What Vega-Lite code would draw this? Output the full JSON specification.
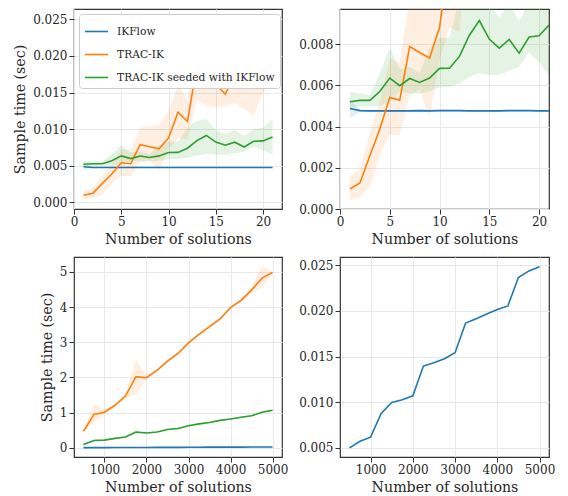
{
  "$schema": "https://vega.github.io/schema/vega-lite/v6.json",
  "padding": {"left": 13, "top": 8, "right": 5, "bottom": 5},
  "background": "white",
  "config": {
    "view": {"stroke": "#333333", "strokeWidth": 1.2},
    "font": "DejaVu Serif",
    "axis": {"labelFont": "DejaVu Serif", "labelFontSize": 12, "labelColor": "#262626", "titleFont": "DejaVu Serif", "titleFontSize": 14.2, "titleFontWeight": "normal", "titleColor": "#262626", "domain": false, "tickColor": "#333333", "tickSize": 5, "tickWidth": 1, "gridColor": "#e8e8e8", "gridWidth": 1, "labelPadding": 2, "titlePadding": 5, "labelFlush": false, "labelOverlap": false},
    "legend": {"labelFont": "DejaVu Serif", "labelFontSize": 10.7, "labelColor": "#262626", "labelLimit": 400}
  },
  "datasets": {
    "d": [
      {"s": "A", "m": "IKFlow", "n": 1, "y": 0.00487, "lo": 0.0044, "hi": 0.0053},
      {"s": "A", "m": "IKFlow", "n": 2, "y": 0.00477, "lo": 0.00472, "hi": 0.00482},
      {"s": "A", "m": "IKFlow", "n": 3, "y": 0.00476, "lo": 0.00472, "hi": 0.0048},
      {"s": "A", "m": "IKFlow", "n": 4, "y": 0.00476, "lo": 0.00472, "hi": 0.0048},
      {"s": "A", "m": "IKFlow", "n": 5, "y": 0.00476, "lo": 0.00472, "hi": 0.0048},
      {"s": "A", "m": "IKFlow", "n": 6, "y": 0.00476, "lo": 0.00472, "hi": 0.0048},
      {"s": "A", "m": "IKFlow", "n": 7, "y": 0.00476, "lo": 0.00472, "hi": 0.0048},
      {"s": "A", "m": "IKFlow", "n": 8, "y": 0.00477, "lo": 0.00473, "hi": 0.00481},
      {"s": "A", "m": "IKFlow", "n": 9, "y": 0.00476, "lo": 0.00472, "hi": 0.0048},
      {"s": "A", "m": "IKFlow", "n": 10, "y": 0.00477, "lo": 0.00473, "hi": 0.00481},
      {"s": "A", "m": "IKFlow", "n": 11, "y": 0.00477, "lo": 0.00473, "hi": 0.00481},
      {"s": "A", "m": "IKFlow", "n": 12, "y": 0.00477, "lo": 0.00473, "hi": 0.00481},
      {"s": "A", "m": "IKFlow", "n": 13, "y": 0.00476, "lo": 0.00472, "hi": 0.0048},
      {"s": "A", "m": "IKFlow", "n": 14, "y": 0.00476, "lo": 0.00472, "hi": 0.0048},
      {"s": "A", "m": "IKFlow", "n": 15, "y": 0.00476, "lo": 0.00472, "hi": 0.0048},
      {"s": "A", "m": "IKFlow", "n": 16, "y": 0.00476, "lo": 0.00472, "hi": 0.0048},
      {"s": "A", "m": "IKFlow", "n": 17, "y": 0.00477, "lo": 0.00473, "hi": 0.00481},
      {"s": "A", "m": "IKFlow", "n": 18, "y": 0.00477, "lo": 0.00473, "hi": 0.00481},
      {"s": "A", "m": "IKFlow", "n": 19, "y": 0.00477, "lo": 0.00473, "hi": 0.00481},
      {"s": "A", "m": "IKFlow", "n": 20, "y": 0.00476, "lo": 0.00472, "hi": 0.0048},
      {"s": "A", "m": "IKFlow", "n": 21, "y": 0.00476, "lo": 0.00472, "hi": 0.0048},
      {"s": "A", "m": "TRAC-IK", "n": 1, "y": 0.00097, "lo": 0.0004, "hi": 0.0016},
      {"s": "A", "m": "TRAC-IK", "n": 2, "y": 0.00126, "lo": 0.00057, "hi": 0.0019},
      {"s": "A", "m": "TRAC-IK", "n": 3, "y": 0.00258, "lo": 0.00105, "hi": 0.0037},
      {"s": "A", "m": "TRAC-IK", "n": 4, "y": 0.00388, "lo": 0.0026, "hi": 0.0052},
      {"s": "A", "m": "TRAC-IK", "n": 5, "y": 0.00541, "lo": 0.0036, "hi": 0.0073},
      {"s": "A", "m": "TRAC-IK", "n": 6, "y": 0.00528, "lo": 0.0036, "hi": 0.0071},
      {"s": "A", "m": "TRAC-IK", "n": 7, "y": 0.00788, "lo": 0.0055, "hi": 0.0102},
      {"s": "A", "m": "TRAC-IK", "n": 8, "y": 0.00759, "lo": 0.0058, "hi": 0.0104},
      {"s": "A", "m": "TRAC-IK", "n": 9, "y": 0.00732, "lo": 0.0044, "hi": 0.0106},
      {"s": "A", "m": "TRAC-IK", "n": 10, "y": 0.0088, "lo": 0.0072, "hi": 0.0125},
      {"s": "A", "m": "TRAC-IK", "n": 11, "y": 0.0123, "lo": 0.0088, "hi": 0.016},
      {"s": "A", "m": "TRAC-IK", "n": 12, "y": 0.01105, "lo": 0.0086, "hi": 0.014},
      {"s": "A", "m": "TRAC-IK", "n": 13, "y": 0.01864, "lo": 0.014, "hi": 0.0215},
      {"s": "A", "m": "TRAC-IK", "n": 14, "y": 0.01577, "lo": 0.0132, "hi": 0.02},
      {"s": "A", "m": "TRAC-IK", "n": 15, "y": 0.01614, "lo": 0.013, "hi": 0.02},
      {"s": "A", "m": "TRAC-IK", "n": 16, "y": 0.01477, "lo": 0.0131, "hi": 0.0185},
      {"s": "A", "m": "TRAC-IK", "n": 17, "y": 0.01741, "lo": 0.0136, "hi": 0.02},
      {"s": "A", "m": "TRAC-IK", "n": 18, "y": 0.01632, "lo": 0.0128, "hi": 0.019},
      {"s": "A", "m": "TRAC-IK", "n": 19, "y": 0.01645, "lo": 0.0118, "hi": 0.0205},
      {"s": "A", "m": "TRAC-IK", "n": 20, "y": 0.01864, "lo": 0.015, "hi": 0.0222},
      {"s": "A", "m": "TRAC-IK", "n": 21, "y": 0.02077, "lo": 0.0168, "hi": 0.0252},
      {"s": "A", "m": "TRAC-IK seeded with IKFlow", "n": 1, "y": 0.0052, "lo": 0.0049, "hi": 0.0057},
      {"s": "A", "m": "TRAC-IK seeded with IKFlow", "n": 2, "y": 0.00527, "lo": 0.005, "hi": 0.0056},
      {"s": "A", "m": "TRAC-IK seeded with IKFlow", "n": 3, "y": 0.00527, "lo": 0.005, "hi": 0.0055},
      {"s": "A", "m": "TRAC-IK seeded with IKFlow", "n": 4, "y": 0.0057, "lo": 0.005, "hi": 0.0066},
      {"s": "A", "m": "TRAC-IK seeded with IKFlow", "n": 5, "y": 0.00635, "lo": 0.0052, "hi": 0.0078},
      {"s": "A", "m": "TRAC-IK seeded with IKFlow", "n": 6, "y": 0.00598, "lo": 0.0057, "hi": 0.0068},
      {"s": "A", "m": "TRAC-IK seeded with IKFlow", "n": 7, "y": 0.00633, "lo": 0.0056, "hi": 0.0069},
      {"s": "A", "m": "TRAC-IK seeded with IKFlow", "n": 8, "y": 0.00614, "lo": 0.0056, "hi": 0.0066},
      {"s": "A", "m": "TRAC-IK seeded with IKFlow", "n": 9, "y": 0.00635, "lo": 0.0057, "hi": 0.0078},
      {"s": "A", "m": "TRAC-IK seeded with IKFlow", "n": 10, "y": 0.00682, "lo": 0.0059, "hi": 0.0083},
      {"s": "A", "m": "TRAC-IK seeded with IKFlow", "n": 11, "y": 0.00683, "lo": 0.0059, "hi": 0.0083},
      {"s": "A", "m": "TRAC-IK seeded with IKFlow", "n": 12, "y": 0.0074, "lo": 0.0061, "hi": 0.0102},
      {"s": "A", "m": "TRAC-IK seeded with IKFlow", "n": 13, "y": 0.00843, "lo": 0.0064, "hi": 0.0111},
      {"s": "A", "m": "TRAC-IK seeded with IKFlow", "n": 14, "y": 0.00914, "lo": 0.0066, "hi": 0.0114},
      {"s": "A", "m": "TRAC-IK seeded with IKFlow", "n": 15, "y": 0.00824, "lo": 0.0065, "hi": 0.0099},
      {"s": "A", "m": "TRAC-IK seeded with IKFlow", "n": 16, "y": 0.0078, "lo": 0.0065, "hi": 0.0093},
      {"s": "A", "m": "TRAC-IK seeded with IKFlow", "n": 17, "y": 0.00822, "lo": 0.0067, "hi": 0.0099},
      {"s": "A", "m": "TRAC-IK seeded with IKFlow", "n": 18, "y": 0.00756, "lo": 0.0069, "hi": 0.0091},
      {"s": "A", "m": "TRAC-IK seeded with IKFlow", "n": 19, "y": 0.00834, "lo": 0.0076, "hi": 0.01},
      {"s": "A", "m": "TRAC-IK seeded with IKFlow", "n": 20, "y": 0.0084, "lo": 0.0071, "hi": 0.0102},
      {"s": "A", "m": "TRAC-IK seeded with IKFlow", "n": 21, "y": 0.00892, "lo": 0.0065, "hi": 0.0114},
      {"s": "B", "m": "IKFlow", "n": 500, "y": 0.005, "lo": 0.005, "hi": 0.005},
      {"s": "B", "m": "IKFlow", "n": 750, "y": 0.00573, "lo": 0.00573, "hi": 0.00573},
      {"s": "B", "m": "IKFlow", "n": 1000, "y": 0.00617, "lo": 0.00617, "hi": 0.00617},
      {"s": "B", "m": "IKFlow", "n": 1250, "y": 0.00876, "lo": 0.00876, "hi": 0.00876},
      {"s": "B", "m": "IKFlow", "n": 1500, "y": 0.00997, "lo": 0.00997, "hi": 0.00997},
      {"s": "B", "m": "IKFlow", "n": 1750, "y": 0.01026, "lo": 0.01026, "hi": 0.01026},
      {"s": "B", "m": "IKFlow", "n": 2000, "y": 0.0107, "lo": 0.0107, "hi": 0.0107},
      {"s": "B", "m": "IKFlow", "n": 2250, "y": 0.01396, "lo": 0.01396, "hi": 0.01396},
      {"s": "B", "m": "IKFlow", "n": 2500, "y": 0.01432, "lo": 0.01432, "hi": 0.01432},
      {"s": "B", "m": "IKFlow", "n": 2750, "y": 0.01476, "lo": 0.01476, "hi": 0.01476},
      {"s": "B", "m": "IKFlow", "n": 3000, "y": 0.01542, "lo": 0.01542, "hi": 0.01542},
      {"s": "B", "m": "IKFlow", "n": 3250, "y": 0.01867, "lo": 0.01867, "hi": 0.01867},
      {"s": "B", "m": "IKFlow", "n": 3500, "y": 0.01915, "lo": 0.01915, "hi": 0.01915},
      {"s": "B", "m": "IKFlow", "n": 3750, "y": 0.01966, "lo": 0.01966, "hi": 0.01966},
      {"s": "B", "m": "IKFlow", "n": 4000, "y": 0.02014, "lo": 0.02014, "hi": 0.02014},
      {"s": "B", "m": "IKFlow", "n": 4250, "y": 0.02054, "lo": 0.02054, "hi": 0.02054},
      {"s": "B", "m": "IKFlow", "n": 4500, "y": 0.02365, "lo": 0.02365, "hi": 0.02365},
      {"s": "B", "m": "IKFlow", "n": 4750, "y": 0.02438, "lo": 0.02438, "hi": 0.02438},
      {"s": "B", "m": "IKFlow", "n": 5000, "y": 0.02482, "lo": 0.02482, "hi": 0.02482},
      {"s": "B", "m": "TRAC-IK", "n": 500, "y": 0.47, "lo": 0.44, "hi": 0.5},
      {"s": "B", "m": "TRAC-IK", "n": 750, "y": 0.95, "lo": 0.72, "hi": 1.25},
      {"s": "B", "m": "TRAC-IK", "n": 1000, "y": 1.01, "lo": 0.95, "hi": 1.06},
      {"s": "B", "m": "TRAC-IK", "n": 1250, "y": 1.21, "lo": 1.17, "hi": 1.25},
      {"s": "B", "m": "TRAC-IK", "n": 1500, "y": 1.47, "lo": 1.4, "hi": 1.55},
      {"s": "B", "m": "TRAC-IK", "n": 1750, "y": 2.02, "lo": 1.5, "hi": 2.52},
      {"s": "B", "m": "TRAC-IK", "n": 2000, "y": 1.99, "lo": 1.94, "hi": 2.05},
      {"s": "B", "m": "TRAC-IK", "n": 2250, "y": 2.2, "lo": 2.16, "hi": 2.24},
      {"s": "B", "m": "TRAC-IK", "n": 2500, "y": 2.46, "lo": 2.42, "hi": 2.5},
      {"s": "B", "m": "TRAC-IK", "n": 2750, "y": 2.68, "lo": 2.64, "hi": 2.72},
      {"s": "B", "m": "TRAC-IK", "n": 3000, "y": 2.98, "lo": 2.94, "hi": 3.02},
      {"s": "B", "m": "TRAC-IK", "n": 3250, "y": 3.22, "lo": 3.18, "hi": 3.26},
      {"s": "B", "m": "TRAC-IK", "n": 3500, "y": 3.44, "lo": 3.4, "hi": 3.48},
      {"s": "B", "m": "TRAC-IK", "n": 3750, "y": 3.66, "lo": 3.62, "hi": 3.7},
      {"s": "B", "m": "TRAC-IK", "n": 4000, "y": 3.98, "lo": 3.94, "hi": 4.02},
      {"s": "B", "m": "TRAC-IK", "n": 4250, "y": 4.19, "lo": 4.14, "hi": 4.24},
      {"s": "B", "m": "TRAC-IK", "n": 4500, "y": 4.48, "lo": 4.38, "hi": 4.58},
      {"s": "B", "m": "TRAC-IK", "n": 4750, "y": 4.82, "lo": 4.55, "hi": 5.15},
      {"s": "B", "m": "TRAC-IK", "n": 5000, "y": 4.98, "lo": 4.94, "hi": 5.02},
      {"s": "B", "m": "TRAC-IK seeded with IKFlow", "n": 500, "y": 0.095, "lo": 0.08, "hi": 0.11},
      {"s": "B", "m": "TRAC-IK seeded with IKFlow", "n": 750, "y": 0.21, "lo": 0.19, "hi": 0.23},
      {"s": "B", "m": "TRAC-IK seeded with IKFlow", "n": 1000, "y": 0.22, "lo": 0.2, "hi": 0.24},
      {"s": "B", "m": "TRAC-IK seeded with IKFlow", "n": 1250, "y": 0.27, "lo": 0.25, "hi": 0.29},
      {"s": "B", "m": "TRAC-IK seeded with IKFlow", "n": 1500, "y": 0.31, "lo": 0.29, "hi": 0.33},
      {"s": "B", "m": "TRAC-IK seeded with IKFlow", "n": 1750, "y": 0.45, "lo": 0.39, "hi": 0.51},
      {"s": "B", "m": "TRAC-IK seeded with IKFlow", "n": 2000, "y": 0.42, "lo": 0.4, "hi": 0.44},
      {"s": "B", "m": "TRAC-IK seeded with IKFlow", "n": 2250, "y": 0.45, "lo": 0.43, "hi": 0.47},
      {"s": "B", "m": "TRAC-IK seeded with IKFlow", "n": 2500, "y": 0.52, "lo": 0.5, "hi": 0.54},
      {"s": "B", "m": "TRAC-IK seeded with IKFlow", "n": 2750, "y": 0.55, "lo": 0.53, "hi": 0.57},
      {"s": "B", "m": "TRAC-IK seeded with IKFlow", "n": 3000, "y": 0.63, "lo": 0.61, "hi": 0.65},
      {"s": "B", "m": "TRAC-IK seeded with IKFlow", "n": 3250, "y": 0.68, "lo": 0.66, "hi": 0.7},
      {"s": "B", "m": "TRAC-IK seeded with IKFlow", "n": 3500, "y": 0.72, "lo": 0.7, "hi": 0.74},
      {"s": "B", "m": "TRAC-IK seeded with IKFlow", "n": 3750, "y": 0.78, "lo": 0.76, "hi": 0.8},
      {"s": "B", "m": "TRAC-IK seeded with IKFlow", "n": 4000, "y": 0.82, "lo": 0.8, "hi": 0.84},
      {"s": "B", "m": "TRAC-IK seeded with IKFlow", "n": 4250, "y": 0.87, "lo": 0.85, "hi": 0.89},
      {"s": "B", "m": "TRAC-IK seeded with IKFlow", "n": 4500, "y": 0.91, "lo": 0.89, "hi": 0.93},
      {"s": "B", "m": "TRAC-IK seeded with IKFlow", "n": 4750, "y": 1.01, "lo": 0.98, "hi": 1.04},
      {"s": "B", "m": "TRAC-IK seeded with IKFlow", "n": 5000, "y": 1.07, "lo": 1.05, "hi": 1.09}
    ]
  },
  "columns": 2,
  "spacing": {"row": 48, "column": 58},
  "bounds": "flush",
  "resolve": {"scale": {"x": "independent", "y": "independent", "color": "independent"}, "axis": {"x": "independent", "y": "independent"}, "legend": {"color": "independent"}},
  "concat": [
    {
      "width": 208, "height": 200,
      "data": {"name": "d"},
      "transform": [{"filter": "datum.s == 'A'"}],
      "encoding": {
        "x": {"field": "n", "type": "quantitative", "scale": {"domain": [0, 22], "nice": false, "zero": false}, "axis": {"values": [0, 5, 10, 15, 20], "title": "Number of solutions"}},
        "color": {"field": "m", "type": "nominal", "scale": {"domain": ["IKFlow", "TRAC-IK", "TRAC-IK seeded with IKFlow"], "range": ["#1f77b4", "#ff7f0e", "#2ca02c"]},
          "legend": {"title": null, "orient": "top-left", "offset": 5, "padding": 5, "fillColor": "white", "strokeColor": "#cccccc", "cornerRadius": 3, "symbolType": "stroke", "symbolSize": 529, "symbolStrokeWidth": 1.6, "symbolOpacity": 1, "labelOffset": 8, "rowPadding": 5, "labelFontSize": 10.7, "labelLimit": 400}}
      },
      "layer": [
        {"mark": {"type": "area", "opacity": 0.12, "clip": true},
         "encoding": {"y": {"field": "lo", "type": "quantitative", "scale": {"domain": [-0.0009, 0.0264], "nice": false, "zero": false}, "axis": {"values": [0, 0.005, 0.01, 0.015, 0.02, 0.025], "format": ".3f", "title": "Sample time (sec)"}}, "y2": {"field": "hi"}}},
        {"mark": {"type": "line", "strokeWidth": 1.6, "clip": true},
         "encoding": {"y": {"field": "y", "type": "quantitative", "axis": {"values": [0, 0.005, 0.01, 0.015, 0.02, 0.025], "format": ".3f", "title": "Sample time (sec)"}}}}
      ]
    },
    {
      "width": 209, "height": 200,
      "data": {"name": "d"},
      "transform": [{"filter": "datum.s == 'A'"}],
      "encoding": {
        "x": {"field": "n", "type": "quantitative", "scale": {"domain": [0, 21], "nice": false, "zero": false}, "axis": {"values": [0, 5, 10, 15, 20], "title": "Number of solutions"}},
        "color": {"field": "m", "type": "nominal", "scale": {"domain": ["IKFlow", "TRAC-IK", "TRAC-IK seeded with IKFlow"], "range": ["#1f77b4", "#ff7f0e", "#2ca02c"]}, "legend": null}
      },
      "layer": [
        {"mark": {"type": "area", "opacity": 0.12, "clip": true},
         "encoding": {"y": {"field": "lo", "type": "quantitative", "scale": {"domain": [0, 0.0097], "nice": false, "zero": false}, "axis": {"values": [0, 0.002, 0.004, 0.006, 0.008], "format": ".3f", "title": null}}, "y2": {"field": "hi"}}},
        {"mark": {"type": "line", "strokeWidth": 1.6, "clip": true},
         "encoding": {"y": {"field": "y", "type": "quantitative", "axis": {"values": [0, 0.002, 0.004, 0.006, 0.008], "format": ".3f", "title": null}}}}
      ]
    },
    {
      "width": 208, "height": 200,
      "data": {"name": "d"},
      "transform": [{"filter": "datum.s == 'B'"}],
      "encoding": {
        "x": {"field": "n", "type": "quantitative", "scale": {"domain": [275, 5225], "nice": false, "zero": false}, "axis": {"values": [1000, 2000, 3000, 4000, 5000], "format": "d", "title": "Number of solutions"}},
        "color": {"field": "m", "type": "nominal", "scale": {"domain": ["IKFlow", "TRAC-IK", "TRAC-IK seeded with IKFlow"], "range": ["#1f77b4", "#ff7f0e", "#2ca02c"]}, "legend": null}
      },
      "layer": [
        {"mark": {"type": "area", "opacity": 0.12, "clip": true},
         "encoding": {"y": {"field": "lo", "type": "quantitative", "scale": {"domain": [-0.26, 5.42], "nice": false, "zero": false}, "axis": {"values": [0, 1, 2, 3, 4, 5], "format": "d", "title": "Sample time (sec)"}}, "y2": {"field": "hi"}}},
        {"mark": {"type": "line", "strokeWidth": 1.6, "clip": true},
         "encoding": {"y": {"field": "y", "type": "quantitative", "axis": {"values": [0, 1, 2, 3, 4, 5], "format": "d", "title": "Sample time (sec)"}}}}
      ]
    },
    {
      "width": 209, "height": 200,
      "data": {"name": "d"},
      "transform": [{"filter": "datum.s == 'B' && datum.m == 'IKFlow'"}],
      "mark": {"type": "line", "strokeWidth": 1.6, "clip": true},
      "encoding": {
        "x": {"field": "n", "type": "quantitative", "scale": {"domain": [275, 5225], "nice": false, "zero": false}, "axis": {"values": [1000, 2000, 3000, 4000, 5000], "format": "d", "title": "Number of solutions"}},
        "y": {"field": "y", "type": "quantitative", "scale": {"domain": [0.004, 0.0259], "nice": false, "zero": false}, "axis": {"values": [0.005, 0.01, 0.015, 0.02, 0.025], "format": ".3f", "title": null}},
        "color": {"field": "m", "type": "nominal", "scale": {"domain": ["IKFlow", "TRAC-IK", "TRAC-IK seeded with IKFlow"], "range": ["#1f77b4", "#ff7f0e", "#2ca02c"]}, "legend": null}
      }
    }
  ]
}
